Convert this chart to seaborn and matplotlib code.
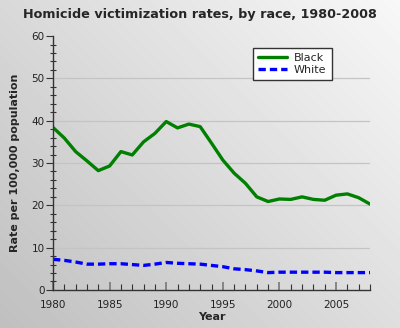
import numpy as np
import pandas as pd
import matplotlib
matplotlib.use("Agg")
import matplotlib.pyplot as plt
import seaborn as sns
from matplotlib.ticker import MultipleLocator

years = list(range(1980, 2009))
black = [38.4, 35.9, 32.7, 30.5, 28.2, 29.3, 32.7, 31.9, 35.0, 37.0, 39.8, 38.3,
         39.2, 38.6, 34.7, 30.7, 27.6, 25.2, 22.0, 20.9, 21.5, 21.4, 22.0, 21.4,
         21.2, 22.4, 22.7, 21.8, 20.3]
white = [7.25, 7.0, 6.6, 6.1, 6.1, 6.2, 6.2, 6.0, 5.8, 6.1, 6.5, 6.3, 6.2, 6.1,
         5.8, 5.5, 5.0, 4.8, 4.5, 4.1, 4.2, 4.2, 4.2, 4.2, 4.2, 4.1, 4.1, 4.1, 4.1]
title = "Homicide victimization rates, by race, 1980-2008"

df = pd.DataFrame({"Year": years * 2,
                   "Rate": black + white,
                   "Race": ["Black"] * len(years) + ["White"] * len(years)})

sns.set_theme(style="ticks")
plt.rcParams['font.family'] = ['DejaVu Sans']

fig = plt.figure(figsize=(4.0, 3.28), dpi=100)

# gradient background
bg = fig.add_axes([0, 0, 1, 1], zorder=-10)
gx, gy = np.meshgrid(np.linspace(0, 1, 200), np.linspace(0, 1, 164))
grad = 0.75 + 0.22 * (0.55 * gx + 0.45 * (1 - gy))
bg.imshow(grad, cmap="gray", vmin=0, vmax=1, aspect="auto", extent=[0, 1, 0, 1])
bg.set_axis_off()

ax = fig.add_axes([0.1325, 0.116, 0.7925, 0.774])
ax.patch.set_alpha(0)

for y in [10, 20, 30, 40, 50]:
    ax.axhline(y, color="#c4c4c4", lw=0.9, zorder=0)

sns.lineplot(data=df, x="Year", y="Rate", hue="Race", style="Race",
             palette={"Black": "#008000", "White": "#0000ff"},
             dashes={"Black": "", "White": (2.2, 1.2)},
             linewidth=2.4, ax=ax, legend=True)

ax.set_xlim(1980, 2008)
ax.set_ylim(0, 60)
ax.xaxis.set_major_locator(MultipleLocator(5))
ax.xaxis.set_minor_locator(MultipleLocator(1))
ax.yaxis.set_major_locator(MultipleLocator(10))
ax.yaxis.set_minor_locator(MultipleLocator(2))
ax.tick_params(axis="x", which="major", direction="in", length=6, width=1.2,
               color="#777777", labelsize=7.5, pad=7)
ax.tick_params(axis="x", which="minor", direction="in", length=4, width=0.8,
               color="#333333")
ax.tick_params(axis="y", which="major", direction="out", length=5, width=0.8,
               color="#333333", labelsize=7.5, pad=1)
ax.tick_params(axis="y", which="minor", direction="inout", length=4, width=0.8,
               color="#333333")
for lab in ax.get_xticklabels() + ax.get_yticklabels():
    lab.set_color("#222222")

ax.spines["top"].set_visible(False)
ax.spines["right"].set_visible(False)
ax.spines["left"].set_color("#333333")
ax.spines["bottom"].set_color("#333333")
ax.spines["left"].set_linewidth(1.0)
ax.spines["bottom"].set_linewidth(1.0)

ax.set_xlabel("Year", fontsize=8, fontweight="bold", labelpad=1.5)
ax.set_ylabel("Rate per 100,000 population", fontsize=8, fontweight="bold", labelpad=8)

leg = ax.legend(loc="upper left", bbox_to_anchor=(0.63, 0.955), fontsize=8,
                frameon=True, fancybox=False, handlelength=2.6, handletextpad=0.6,
                borderpad=0.5, labelspacing=0.15, borderaxespad=0)
leg.get_frame().set_edgecolor("#333333")
leg.get_frame().set_facecolor("white")
leg.get_frame().set_linewidth(1.0)
leg.get_frame().set_alpha(1)

fig.text(0.5, 0.955, title, ha="center", va="center", fontsize=9.2, fontweight="bold")

fig.savefig("out.png", dpi=100)
